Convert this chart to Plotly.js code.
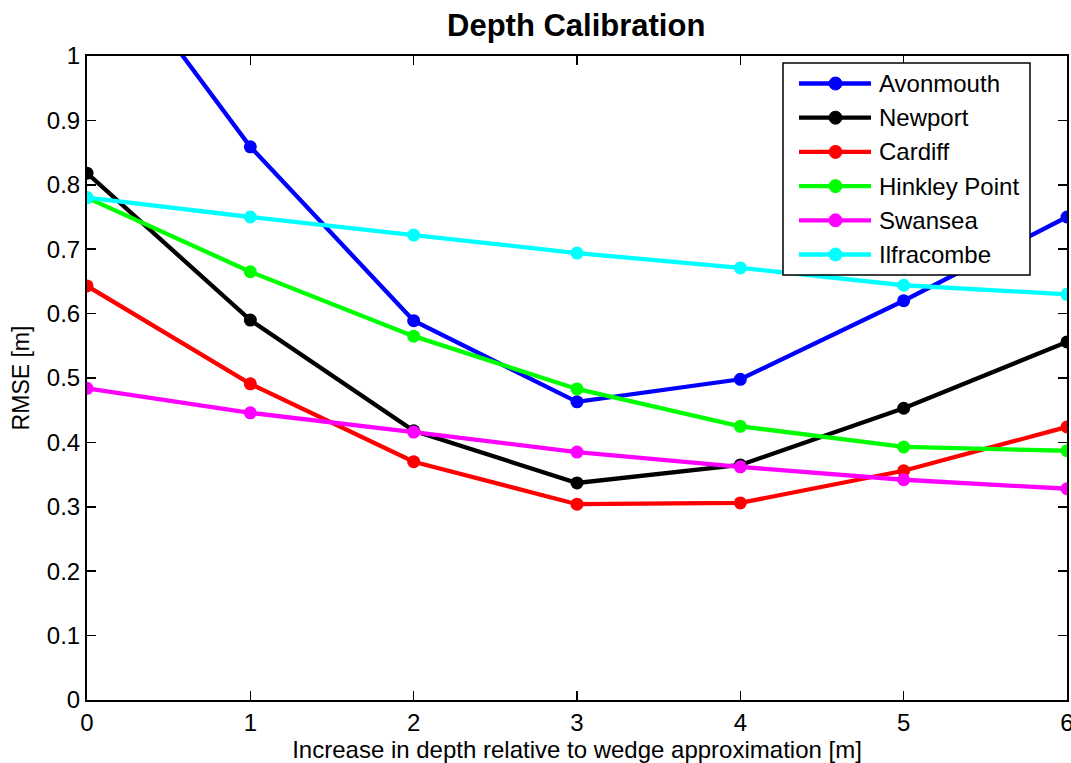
<!DOCTYPE html>
<html>
<head>
<meta charset="utf-8">
<script src="https://cdn.plot.ly/plotly-3.0.1.min.js"></script>
<style>html,body{margin:0;padding:0;background:#fff;}#chart{width:1071px;height:763px;}</style>
</head>
<body>
<div id="chart"></div>
<script>
const depthIncrease = [0, 1, 2, 3, 4, 5, 6];
const avonmouth   = [1.20, 0.859, 0.589, 0.463, 0.498, 0.620, 0.750];
const newport     = [0.818, 0.590, 0.418, 0.337, 0.365, 0.453, 0.556];
const cardiff     = [0.643, 0.491, 0.370, 0.304, 0.306, 0.356, 0.424];
const hinkley     = [0.780, 0.665, 0.565, 0.483, 0.425, 0.393, 0.387];
const swansea     = [0.484, 0.446, 0.416, 0.385, 0.362, 0.342, 0.328];
const ilfracombe  = [0.780, 0.750, 0.722, 0.694, 0.671, 0.644, 0.630];
const seriesNames = ['Avonmouth', 'Newport', 'Cardiff', 'Hinkley Point', 'Swansea', 'Ilfracombe'];
const seriesData = [avonmouth, newport, cardiff, hinkley, swansea, ilfracombe];
const seriesColors = ['#0000ff', '#000000', '#ff0000', '#00ff00', '#ff00ff', '#00ffff'];

const traces = seriesData.map((ys, i) => ({
  x: depthIncrease, y: ys, name: seriesNames[i], type: 'scatter', mode: 'lines+markers',
  line: {color: seriesColors[i], width: 4.3},
  marker: {color: seriesColors[i], size: 13},
  showlegend: false
}));

// Plot-area geometry (pixels) used for the hand-built MATLAB-style legend
const W = 1071, H = 763;
const M = {l: 87, r: 4, t: 56, b: 63};
const plotW = W - M.l - M.r, plotH = H - M.t - M.b;
const px = p => (p - M.l) / plotW;
const py = p => (H - M.b - p) / plotH;

const font = {family: 'Liberation Sans, Arial, sans-serif', color: '#000'};
const shapes = [{
  type: 'rect', xref: 'paper', yref: 'paper', layer: 'above',
  x0: px(783), x1: px(1030), y0: py(275), y1: py(63),
  fillcolor: '#fff', line: {color: '#000', width: 1.5}
}];
const annotations = [];
const legendTop = 83.5, legendStep = 34.2;
seriesNames.forEach((name, i) => {
  const yc = py(legendTop + i * legendStep);
  shapes.push({type: 'line', xref: 'paper', yref: 'paper', layer: 'above',
    x0: px(799), x1: px(871), y0: yc, y1: yc, line: {color: seriesColors[i], width: 4.3}});
  shapes.push({type: 'circle', xref: 'paper', yref: 'paper', layer: 'above',
    xsizemode: 'pixel', ysizemode: 'pixel', xanchor: px(835.5), yanchor: yc,
    x0: -6.5, x1: 6.5, y0: -6.5, y1: 6.5, fillcolor: seriesColors[i], line: {color: seriesColors[i], width: 1}});
  annotations.push({xref: 'paper', yref: 'paper', x: px(877), y: yc, xanchor: 'left', yanchor: 'middle',
    text: name, showarrow: false, font: Object.assign({size: 24}, font)});
});

const layout = {
  width: W, height: H,
  margin: M,
  paper_bgcolor: '#fff', plot_bgcolor: '#fff',
  font: Object.assign({size: 24}, font),
  title: {text: '<b>Depth Calibration</b>', font: Object.assign({size: 31}, font), x: 0.538, xanchor: 'center', y: 0.967, yanchor: 'middle'},
  xaxis: {
    range: [0, 6], dtick: 1, tick0: 0, showgrid: false, zeroline: false,
    showline: true, mirror: 'ticks', linecolor: '#000', linewidth: 2,
    ticks: 'inside', ticklen: 9, tickcolor: '#000', tickwidth: 1.5,
    tickfont: Object.assign({size: 24}, font), ticklabeloverflow: 'allow',
    title: {text: 'Increase in depth relative to wedge approximation [m]', font: Object.assign({size: 24}, font), standoff: 0}
  },
  yaxis: {
    range: [0, 1], dtick: 0.1, tick0: 0, showgrid: false, zeroline: false,
    showline: true, mirror: 'ticks', linecolor: '#000', linewidth: 2,
    ticks: 'inside', ticklen: 9, tickcolor: '#000', tickwidth: 1.5,
    tickfont: Object.assign({size: 24}, font), ticklabeloverflow: 'allow',
    title: {text: 'RMSE [m]', font: Object.assign({size: 23}, font), standoff: 11}
  },
  shapes: shapes,
  annotations: annotations,
  showlegend: false
};

Plotly.newPlot('chart', traces, layout, {displayModeBar: false, staticPlot: true});
</script>
</body>
</html>
